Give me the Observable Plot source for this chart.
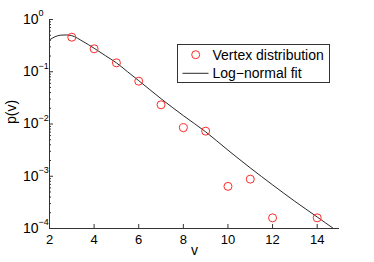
<!DOCTYPE html>
<html><head><meta charset="utf-8">
<script src="https://cdn.jsdelivr.net/npm/d3@7"></script>
<script src="https://cdn.jsdelivr.net/npm/@observablehq/plot@0.6"></script>
<style>
body{margin:0;background:#fff}
#chart{position:relative;width:374px;height:262px}
</style>
</head><body><div id="chart"></div>
<script>
// Vertex distribution (red circles)
const vertexV = [3, 4, 5, 6, 7, 8, 9, 10, 11, 12, 14];
const vertexP = [0.458, 0.275, 0.148, 0.066, 0.0233, 0.0085, 0.0073, 0.00064, 0.00088, 0.00016, 0.00016];
// Log-normal fit curve
const fitV = [2, 2.25, 2.5, 2.75, 3, 3.5, 4, 4.5, 5, 5.5, 6, 7, 8, 9, 10, 11, 12, 13, 14, 14.73];
const fitP = [0.407, 0.468, 0.501, 0.507, 0.490, 0.380, 0.282, 0.204, 0.148, 0.100, 0.0676, 0.0305, 0.01445, 0.00708, 0.00316, 0.001445, 0.000684, 0.000331, 0.000166, 0.0001];
// Ticks
const xTicks = [2, 4, 6, 8, 10, 12, 14];
const yMajorTicks = [1, 1e-1, 1e-2, 1e-3, 1e-4];
const yExponents = ["0", "\u22121", "\u22122", "\u22123", "\u22124"];
const yMinorMultipliers = [2, 3, 4, 5, 6, 7, 8, 9];
const yMinorTicks = [];
for (const d of [1e-4, 1e-3, 1e-2, 1e-1]) for (const m of yMinorMultipliers) yMinorTicks.push(d * m);
const legendLabels = ["Vertex distribution", "Log\u2212normal fit"];

const vertexData = vertexV.map((v, i) => ({v, p: vertexP[i]}));
const fitData = fitV.map((v, i) => ({v, p: fitP[i]}));
const yLabelData = yMajorTicks.map((p, i) => ({p, e: yExponents[i]}));

const font = "'Liberation Sans', Arial, Helvetica, sans-serif";
const axisColor = "#333";

const plot = Plot.plot({
  width: 374, height: 262,
  marginLeft: 49, marginRight: 35, marginTop: 19, marginBottom: 34,
  style: {fontFamily: font, fontSize: "13px", color: "#000", background: "#fff", overflow: "visible"},
  x: {domain: [2, 15]},
  y: {type: "log", domain: [1e-4, 1]},
  marks: [
    Plot.line(fitData, {x: "v", y: "p", stroke: "#111", strokeWidth: 0.9, curve: "monotone-x", clip: true}),
    Plot.dot(vertexData, {x: "v", y: "p", r: 4, stroke: "#ff2a2a", strokeWidth: 1, fill: "none"}),
    Plot.ruleX([2], {stroke: axisColor}),
    Plot.ruleY([1e-4], {stroke: axisColor}),
    Plot.axisX({ticks: xTicks, tickSize: -4, tickFormat: () => "", label: null, stroke: axisColor}),
    Plot.axisX({ticks: xTicks, tickSize: 0, tickPadding: 6, label: null, fontSize: 13}),
    Plot.axisY({ticks: yMajorTicks, tickSize: -4, tickFormat: () => "", label: null, stroke: axisColor}),
    Plot.axisY({ticks: yMinorTicks, tickSize: -2, tickFormat: () => "", label: null, stroke: axisColor}),
    Plot.text(yLabelData, {y: "p", text: () => "10", frameAnchor: "left", dx: -11, textAnchor: "end", fontSize: 14}),
    Plot.text(yLabelData, {y: "p", text: "e", frameAnchor: "left", dx: -11, dy: -6, textAnchor: "start", fontSize: 9}),
    Plot.text(["v"], {frameAnchor: "bottom", dy: 26, fontSize: 14}),
    Plot.text(["p(v)"], {frameAnchor: "left", dx: -38, rotate: -90, fontSize: 14})
  ]
});
document.getElementById("chart").appendChild(plot);

// Legend box (top right, inside the axes)
const svg = d3.select(plot);
const lg = svg.append("g").attr("font-family", font).attr("font-size", 14).attr("text-anchor", "start");
lg.append("rect").attr("x", 177.5).attr("y", 44.5).attr("width", 152).attr("height", 38)
  .attr("fill", "#fff").attr("stroke", "#333").attr("stroke-width", 1);
lg.append("circle").attr("cx", 195.7).attr("cy", 54.7).attr("r", 4)
  .attr("fill", "none").attr("stroke", "#ff2a2a").attr("stroke-width", 1);
lg.append("text").attr("x", 212.5).attr("y", 54.7).attr("dy", "0.35em").attr("text-anchor", "start").text(legendLabels[0]);
lg.append("line").attr("x1", 182.5).attr("x2", 208.5).attr("y1", 73.3).attr("y2", 73.3)
  .attr("stroke", "#111").attr("stroke-width", 0.9);
lg.append("text").attr("x", 212.5).attr("y", 73.3).attr("dy", "0.35em").attr("text-anchor", "start").text(legendLabels[1]);
</script>
</body></html>
